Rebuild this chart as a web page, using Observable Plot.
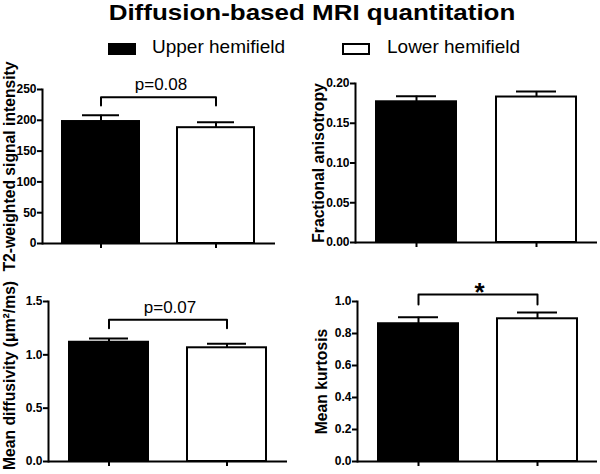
<!DOCTYPE html>
<html>
<head>
<meta charset="utf-8">
<script src="https://cdn.jsdelivr.net/npm/d3@7"></script>
<script src="https://cdn.jsdelivr.net/npm/@observablehq/plot@0.6"></script>
<style>
  html, body { margin: 0; padding: 0; background: #fff; }
  #wrap { position: relative; width: 600px; height: 474px; overflow: hidden; font-family: "Liberation Sans", Arial, sans-serif; color: #000; }
  .abs { position: absolute; }
  #title { left: 112px; width: 400px; top: 0px; text-align: center; font-weight: bold; font-size: 22px; line-height: 26px; white-space: nowrap; transform: scaleX(1.18); transform-origin: 50% 50%; }
  .sw { position: absolute; box-sizing: border-box; width: 28px; height: 12px; top: 43px; }
  .lt { position: absolute; top: 36px; font-size: 19px; line-height: 22px; white-space: nowrap; }
  svg { overflow: visible; }
</style>
</head>
<body>
<div id="wrap">
  <div id="p1" class="abs" style="left:0;top:60px"></div>
  <div id="p2" class="abs" style="left:300px;top:60px"></div>
  <div id="p3" class="abs" style="left:0;top:280px"></div>
  <div id="p4" class="abs" style="left:300px;top:280px"></div>
  <div id="title" class="abs">Diffusion-based MRI quantitation</div>
  <div id="legend"></div>
</div>
<script>
// ---- data ----
const groups = ["Upper hemifield", "Lower hemifield"];
const groupFills = ["black", "white"];

const t2Mean = [198, 188];
const t2Sem = [10, 9];
const t2Ticks = [0, 50, 100, 150, 200, 250];

const faMean = [0.177, 0.183];
const faSem = [0.007, 0.007];
const faTicks = [0, 0.05, 0.10, 0.15, 0.20];

const mdMean = [1.118, 1.066];
const mdSem = [0.035, 0.037];
const mdTicks = [0, 0.5, 1.0, 1.5];

const mkMean = [0.861, 0.892];
const mkSem = [0.041, 0.039];
const mkTicks = [0, 0.2, 0.4, 0.6, 0.8, 1.0];

// significance annotations: [label, bracket top, bracket leg end]
const t2Note = ["p=0.08", 237.5, 224];
const mdNote = ["p=0.07", 1.328, 1.25];
const mkNote = ["*", 1.044, 0.981];

// ---- legend ----
const legend = document.getElementById("legend");
const legendPos = [{sx: 108, tx: 152}, {sx: 342, tx: 387}];
groups.forEach((g, i) => {
  const sw = document.createElement("div");
  sw.className = "sw";
  sw.style.left = legendPos[i].sx + "px";
  sw.style.background = groupFills[i];
  sw.style.border = "2px solid black";
  legend.appendChild(sw);
  const t = document.createElement("div");
  t.className = "lt";
  t.style.left = legendPos[i].tx + "px";
  t.textContent = g;
  legend.appendChild(t);
});

// ---- panels ----
function panel(o) {
  const data = groups.map((g, i) => ({group: g, mean: o.mean[i], top: o.mean[i] + o.sem[i], fill: groupFills[i]}));
  const marks = [
    Plot.barY(data, {x: "group", y: "mean", fill: "fill", stroke: "black", strokeWidth: 2}),
    Plot.ruleX(data, {x: "group", y1: "mean", y2: "top", stroke: "black", strokeWidth: 2}),
    Plot.tickY(data, {x: "group", y: "top", stroke: "black", strokeWidth: 2, insetLeft: 20, insetRight: 20}),
    Plot.ruleY([0], {stroke: "black", strokeWidth: 2}),
    Plot.frame({anchor: "left", stroke: "black", strokeWidth: 2}),
    Plot.axisY({ticks: o.ticks, tickFormat: o.fmt, tickSize: 5, tickPadding: 1, strokeWidth: 2, fontSize: 12, fontWeight: "bold", label: null}),
    Plot.axisX({tickSize: 5, strokeWidth: 2, tickFormat: () => "", label: null}),
    Plot.text([o.label], {frameAnchor: "left", textAnchor: "middle", lineAnchor: "middle", text: d => d, rotate: -90, dx: o.labelDx, dy: o.labelDy || 0, fontSize: 15.7, fontWeight: "bold", fill: "black"})
  ];
  if (o.note) {
    const [lab, top, leg] = o.note;
    const pts = [
      {group: groups[0], v: leg}, {group: groups[0], v: top},
      {group: groups[1], v: top}, {group: groups[1], v: leg}
    ];
    marks.push(Plot.line(pts, {x: "group", y: "v", stroke: "black", strokeWidth: 2}));
    marks.push(Plot.text([{lab, top}], {y: "top", text: "lab", lineAnchor: "bottom", dy: o.noteDy, dx: o.noteDx || 0, fontSize: o.noteSize, fontWeight: o.noteWeight || "normal", fill: "black"}));
  }
  const chart = Plot.plot({
    width: 300,
    height: o.h,
    marginLeft: o.ml, marginRight: o.mr, marginTop: o.mt, marginBottom: o.mb,
    style: {fontFamily: "'Liberation Sans', Arial, sans-serif", color: "black", background: "transparent", overflow: "visible"},
    x: {type: "band", domain: groups, paddingInner: 0.33, paddingOuter: 0.17, axis: null},
    y: {domain: o.domain, axis: null},
    marks
  });
  document.getElementById(o.el).appendChild(chart);
}

panel({el: "p1", mean: t2Mean, sem: t2Sem, domain: [0, 250], ticks: t2Ticks, fmt: d3.format("d"),
  label: "T2-weighted signal intensity", labelDx: -33, h: 200, ml: 42, mr: 25, mt: 29, mb: 17,
  note: t2Note, noteSize: 17, noteDy: -7, noteDx: 2});
panel({el: "p2", mean: faMean, sem: faSem, domain: [0, 0.2], ticks: faTicks, fmt: d3.format(".2f"),
  label: "Fractional anisotropy", labelDx: -37, h: 200, ml: 55, mr: 3, mt: 23, mb: 18});
panel({el: "p3", mean: mdMean, sem: mdSem, domain: [0, 1.5], ticks: mdTicks, fmt: d3.format(".1f"),
  label: "Mean diffusivity (μm²/ms)", labelDx: -39, labelDy: -6, h: 194, ml: 48, mr: 13, mt: 21, mb: 13,
  note: mdNote, noteSize: 17, noteDy: -7, noteDx: 2});
panel({el: "p4", mean: mkMean, sem: mkSem, domain: [0, 1.0], ticks: mkTicks, fmt: d3.format(".1f"),
  label: "Mean kurtosis", labelDx: -36, h: 194, ml: 57, mr: 3, mt: 21, mb: 13,
  note: mkNote, noteSize: 26, noteDy: 7, noteDx: 2, noteWeight: "bold"});
</script>
</body>
</html>
